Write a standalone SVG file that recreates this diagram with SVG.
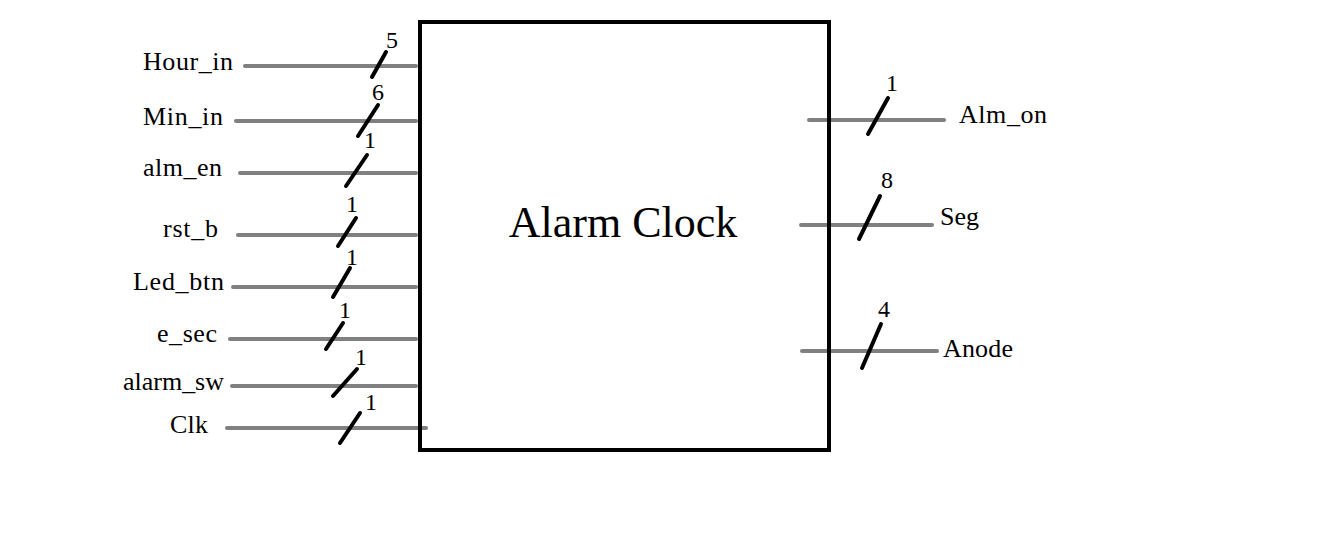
<svg xmlns="http://www.w3.org/2000/svg" width="1330" height="551" viewBox="0 0 1330 551">
<style>
.w{stroke:#808080;stroke-width:4;stroke-linecap:round;fill:none}
.s{stroke:#000;stroke-width:4;stroke-linecap:round;fill:none}
.t{font-family:"Liberation Serif",serif;font-size:26px;fill:#000}
.n{font-family:"Liberation Serif",serif;font-size:24px;fill:#000}
</style>
<rect width="1330" height="551" fill="#fff"/>
<g id="connectors">
<line class="w" x1="245" y1="66" x2="416" y2="66"/>
<line class="s" x1="372" y1="77" x2="386" y2="52"/>
<line class="w" x1="236" y1="121" x2="416" y2="121"/>
<line class="s" x1="358" y1="136" x2="378" y2="105"/>
<line class="w" x1="240" y1="173" x2="416" y2="173"/>
<line class="s" x1="346" y1="186" x2="367" y2="155"/>
<line class="w" x1="238" y1="235" x2="416" y2="235"/>
<line class="s" x1="338" y1="246" x2="356" y2="218"/>
<line class="w" x1="233" y1="287" x2="416" y2="287"/>
<line class="s" x1="333" y1="297" x2="350" y2="268"/>
<line class="w" x1="230" y1="339" x2="416" y2="339"/>
<line class="s" x1="326" y1="349" x2="343" y2="323"/>
<line class="w" x1="232" y1="386" x2="416" y2="386"/>
<line class="s" x1="333" y1="396" x2="357" y2="369"/>
<line class="w" x1="227" y1="428" x2="426" y2="428"/>
<line class="s" x1="340" y1="443" x2="360" y2="413"/>
<line class="w" x1="809" y1="120" x2="944" y2="120"/>
<line class="s" x1="868" y1="134" x2="888" y2="98"/>
<line class="w" x1="801" y1="225" x2="932" y2="225"/>
<line class="s" x1="859" y1="239" x2="880" y2="196"/>
<line class="w" x1="802" y1="351" x2="937" y2="351"/>
<line class="s" x1="862" y1="368" x2="881" y2="324"/>
</g>
<g id="alarm-clock">
<rect x="420" y="22" width="409" height="428" fill="none" stroke="#000" stroke-width="4"/>
<text x="623" y="237" text-anchor="middle" font-family="Liberation Serif, serif" font-size="44">Alarm Clock</text>
</g>
<g id="inputs">
<text class="t" x="143" y="70" textLength="90">Hour_in</text>
<text class="n" x="386" y="48">5</text>
<text class="t" x="143" y="125" textLength="80">Min_in</text>
<text class="n" x="372" y="100">6</text>
<text class="t" x="143" y="176" textLength="79">alm_en</text>
<text class="n" x="364" y="148">1</text>
<text class="t" x="163" y="237" textLength="55">rst_b</text>
<text class="n" x="346" y="212">1</text>
<text class="t" x="133" y="290" textLength="91">Led_btn</text>
<text class="n" x="346" y="265">1</text>
<text class="t" x="157" y="342" textLength="60">e_sec</text>
<text class="n" x="339" y="318">1</text>
<text class="t" x="123" y="390" textLength="101">alarm_sw</text>
<text class="n" x="355" y="365">1</text>
<text class="t" x="170" y="433" textLength="38">Clk</text>
<text class="n" x="365" y="410">1</text>
</g>
<g id="outputs">
<text class="n" x="886" y="91">1</text>
<text class="t" x="959" y="123" textLength="88">Alm_on</text>
<text class="n" x="881" y="188">8</text>
<text class="t" x="940" y="225" textLength="39">Seg</text>
<text class="n" x="878" y="317">4</text>
<text class="t" x="943" y="357" textLength="70">Anode</text>
</g>
</svg>
